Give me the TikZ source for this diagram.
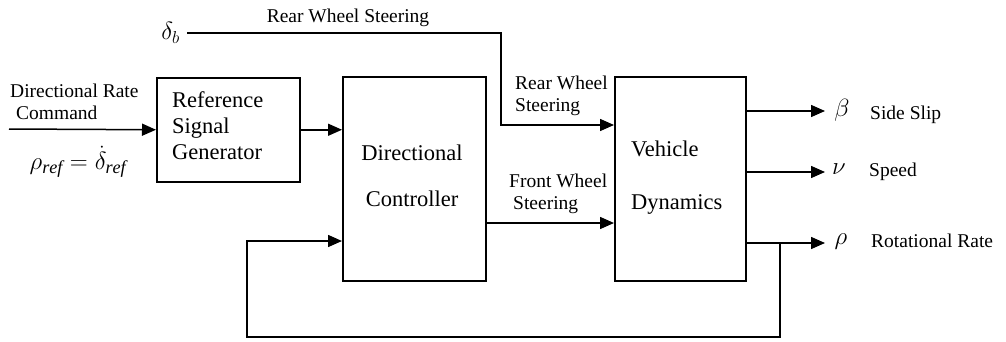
\documentclass[tikz,border=0pt]{standalone}
\usepackage{fontspec}
\setmainfont{Liberation Serif}
\usetikzlibrary{arrows.meta,calc}

\begin{document}
\begin{tikzpicture}[x=1pt,y=-1pt,
  blk/.style={draw, line width=1.5pt, inner sep=0pt, anchor=north west},
  lbl/.style={font=\fontsize{19.5}{22}\selectfont, inner sep=0pt},
  boxtxt/.style={font=\fontsize{22.5}{26}\selectfont, inner sep=0pt},
  sym/.style={font=\fontsize{26}{28}\selectfont, inner sep=0pt},
  sig/.style={line width=1.5pt},
  arr/.style={sig, -{Triangle[length=14pt,width=12pt]}}]

\useasboundingbox (0,0) rectangle (1006,341);

% blocks
\node[blk, minimum width=143pt, minimum height=104pt] (rsg) at (156,77) {};
\node[blk, minimum width=143pt, minimum height=204pt] (ctrl) at (342,76) {};
\node[blk, minimum width=131pt, minimum height=204pt] (veh) at (614,76) {};

% block texts
\node[boxtxt, align=left, anchor=west] (rsgtxt) at (172,126) {Reference\\Signal\\Generator};
\node[boxtxt, align=center] (ctrltxt) at (412,176) {Directional\\[20pt]Controller};
\node[boxtxt, align=left, anchor=west] (vehtxt) at (631,178) {Vehicle\\[27pt]Dynamics};

% reference input
\coordinate (in) at (9,129);
\draw[arr] (in) -- (rsg.west);
\node[lbl, anchor=west] (cmd1) at (10,91) {Directional Rate};
\node[lbl, anchor=west] (cmd2) at (16,113) {Command};
\node[sym] (rhoref) at (78,162) {$\rho_{\mathit{ref}} = \dot{\delta}_{\mathit{ref}}$};

% generator to controller
\draw[arr] (rsg.east) -- (ctrl.west |- rsg.east);

% rear wheel steering path
\node[sym, anchor=east] (db) at (180,33) {$\delta_b$};
\coordinate (rw) at (501,125);
\draw[arr] ([xshift=7pt]db.east) -- (rw |- db.east) -- (rw) -- (veh.west |- rw);
\node[lbl] (rwtop) at (348,18) {Rear Wheel Steering};
\node[lbl, align=left, anchor=west] (rwlbl) at (515,96) {Rear Wheel\\Steering};

% front wheel steering
\coordinate (fw) at (0,223);
\draw[arr] (ctrl.east |- fw) -- (veh.west |- fw);
\node[lbl, align=left, anchor=west] (fwlbl) at (509,194) {Front Wheel\\\hspace*{4pt}Steering};

% outputs
\coordinate (o1) at (825,111);
\coordinate (o2) at (825,172);
\coordinate (o3) at (825,243);
\draw[arr] (veh.east |- o1) -- (o1);
\draw[arr] (veh.east |- o2) -- (o2);
\draw[arr] (veh.east |- o3) -- (o3);
\node[sym] (beta) at (842,110) {$\beta$};
\node[sym] (nu) at (839,169) {$\nu$};
\node[sym] (rho) at (841,242) {$\rho$};
\node[lbl, anchor=west] (out1) at (870,115) {Side Slip};
\node[lbl, anchor=west] (out2) at (869,172) {Speed};
\node[lbl, anchor=west] (out3) at (871,241) {Rotational Rate};

% feedback loop
\coordinate (tap) at (780,243);
\coordinate (fbl) at (247,337);
\coordinate (fbin) at (0,241);
\draw[arr] (tap) |- (fbl) |- (ctrl.west |- fbin);
\end{tikzpicture}
\end{document}
